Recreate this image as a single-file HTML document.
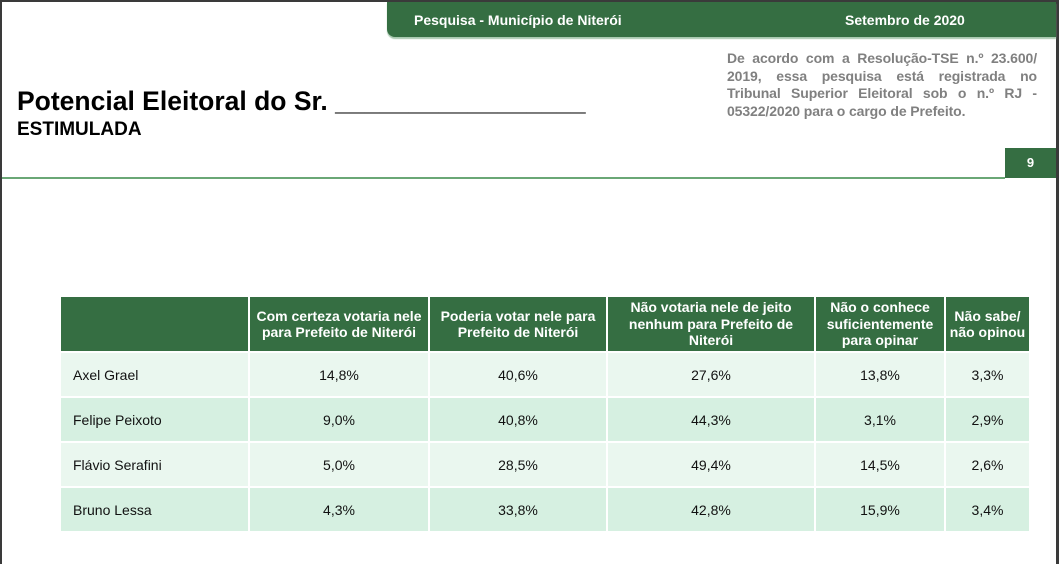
<!DOCTYPE html>
<html><head><meta charset="utf-8"><style>
*{margin:0;padding:0;box-sizing:border-box}
body{width:1059px;height:564px;background:#3a3a3a;position:relative;overflow:hidden;font-family:"Liberation Sans",sans-serif}
#page{position:absolute;left:2px;top:2px;width:1054px;height:562px;background:#fff}
.abs{position:absolute}
#banner{left:385px;top:0;width:669px;height:35px;background:#356e42;border-bottom-left-radius:8px;color:#fff;font-weight:bold;font-size:14px;box-shadow:0 2px 1px #a9c9b0}
#title{left:15px;top:84px;font-size:26.5px;font-weight:bold;color:#000;white-space:nowrap}
#sub{left:15px;top:117px;font-size:19px;font-weight:bold}
#note{left:725px;top:48px;width:310px;font-size:14px;font-weight:bold;color:#808080;line-height:17.5px;letter-spacing:-0.1px}
#note div{text-align:justify;text-align-last:justify;white-space:nowrap}
#note div.l{text-align-last:left}
#line{left:0;top:175px;width:1003px;height:2px;background:#6aa776}
#pgnum{left:1003px;top:146px;width:51px;height:30px;background:#356e42;color:#fff;font-weight:bold;font-size:13px;text-align:center;line-height:30px}
table{position:absolute;left:59px;top:295px;border-collapse:separate;border-spacing:2px 2px;margin:-2px}
td,th{font-size:14px;text-align:center;color:#111}
th{background:#356e42;color:#fff;font-weight:bold;height:54px;line-height:16.5px;padding:0 1px}
td{height:43px}
tr.a td{background:#eaf7ef}tr.b td{background:#d6f0e1}
td.n{text-align:left;padding-left:12px}
</style></head><body>
<div id="page">
<div id="banner" class="abs">
<span class="abs" style="left:27px;top:10px">Pesquisa - Município de Niterói</span>
<span class="abs" style="left:458px;top:10px">Setembro de 2020</span>
</div>
<div id="title" class="abs">Potencial Eleitoral do Sr. _________________</div>
<div id="sub" class="abs">ESTIMULADA</div>
<div id="note" class="abs"><div>De acordo com a Resolução-TSE n.º 23.600/</div><div>2019, essa pesquisa está registrada no</div><div>Tribunal Superior Eleitoral sob o n.º RJ -</div><div class="l">05322/2020 para o cargo de Prefeito.</div></div>
<div id="line" class="abs"></div>
<div id="pgnum" class="abs">9</div>
<table>
<tr>
<th style="width:187px"></th>
<th style="width:178px">Com certeza votaria nele para Prefeito de Niterói</th>
<th style="width:176px">Poderia votar nele para Prefeito de Niterói</th>
<th style="width:206px">Não votaria nele de jeito nenhum para Prefeito de Niterói</th>
<th style="width:128px">Não o conhece suficientemente para opinar</th>
<th style="width:83px">Não sabe/ não opinou</th>
</tr>
<tr class="a"><td class="n">Axel Grael</td><td>14,8%</td><td>40,6%</td><td>27,6%</td><td>13,8%</td><td>3,3%</td></tr>
<tr class="b"><td class="n">Felipe Peixoto</td><td>9,0%</td><td>40,8%</td><td>44,3%</td><td>3,1%</td><td>2,9%</td></tr>
<tr class="a"><td class="n">Flávio Serafini</td><td>5,0%</td><td>28,5%</td><td>49,4%</td><td>14,5%</td><td>2,6%</td></tr>
<tr class="b"><td class="n">Bruno Lessa</td><td>4,3%</td><td>33,8%</td><td>42,8%</td><td>15,9%</td><td>3,4%</td></tr>
</table>
</div>
</body></html>
